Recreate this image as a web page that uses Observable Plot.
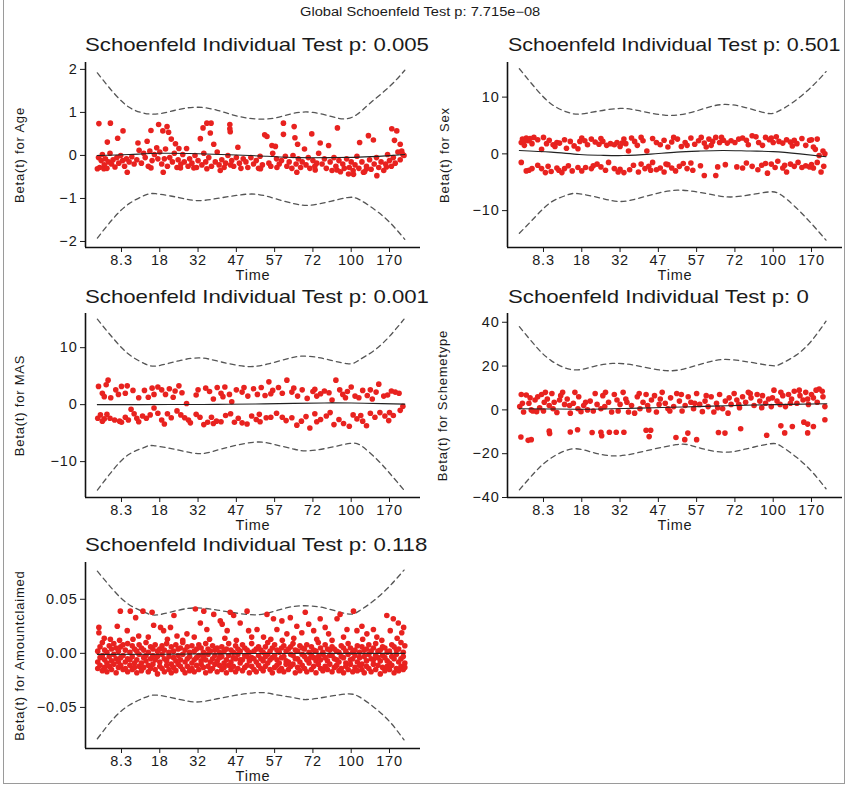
<!DOCTYPE html>
<html>
<head>
<meta charset="utf-8">
<script src="https://cdn.jsdelivr.net/npm/d3@7"></script>
<script src="https://cdn.jsdelivr.net/npm/@observablehq/plot@0.6"></script>
<style>
  html, body { margin: 0; padding: 0; background: #fff; }
  #root { position: relative; width: 850px; height: 787px; overflow: hidden; background: #fff; font-family: "Liberation Sans", Arial, sans-serif; }
  .frame { position: absolute; left: 3px; top: -2px; width: 842px; height: 786px; border: 1px solid #9a9a9a; box-sizing: border-box; }
  .ttl { position: absolute; white-space: nowrap; color: #1a1a1a; transform-origin: left center; }
  .panel { position: absolute; }
  .panel svg text { letter-spacing: 0.8px; }
</style>
</head>
<body>
<div id="root"><div class="frame"></div></div>
<script>
// ---------- shared ----------
const timeTicks = ["8.3", "18", "32", "47", "57", "72", "100", "170"];
const globalTitle = "Global Schoenfeld Test p: 7.715e\u221208";
const panelTitles = [
  "Schoenfeld Individual Test p: 0.005",
  "Schoenfeld Individual Test p: 0.501",
  "Schoenfeld Individual Test p: 0.001",
  "Schoenfeld Individual Test p: 0",
  "Schoenfeld Individual Test p: 0.118"
];
const yLabels = ["Beta(t) for Age", "Beta(t) for Sex", "Beta(t) for MAS", "Beta(t) for Schemetype", "Beta(t) for Amountclaimed"];

// ---------- Age ----------
const agePoints = [
[0.41,0.74],[0.71,0.75],[0.63,0.31],[0.90,0.40],[1.04,0.57],[1.43,0.29],[1.67,0.33],[1.77,0.58],[1.97,0.72],[2.08,0.57],[2.19,0.67],[2.23,0.54],[2.30,0.38],[2.41,0.27],[2.50,0.16],[2.70,0.16],[3.06,0.39],[3.13,0.64],[3.23,0.75],[3.34,0.75],[3.32,0.52],[3.41,0.26],[3.83,0.72],[3.83,0.62],[3.84,0.55],[4.04,0.19],[4.74,0.48],[4.80,0.44],[4.93,0.23],[5.02,0.21],[5.23,0.75],[5.23,0.49],[5.51,0.67],[5.53,0.41],[5.60,0.26],[5.78,0.15],[5.97,0.50],[6.19,0.29],[6.41,0.23],[6.64,0.64],[7.22,0.30],[7.45,0.46],[7.58,0.36],[8.06,0.62],[8.19,0.57],[8.13,0.35],[8.28,0.26],[8.32,0.10],[8.38,0.00],
[0.37,-0.31],[0.54,-0.31],[1.15,-0.39],[1.77,-0.29],[2.09,-0.39],[2.54,-0.29],[2.89,-0.29],[3.23,-0.31],[3.58,-0.35],[3.85,-0.22],[4.63,-0.31],[5.06,-0.28],[5.58,-0.39],[6.06,-0.34],[6.63,-0.34],[6.93,-0.43],[7.06,-0.44],[7.32,-0.39],[7.67,-0.47],[7.40,-0.31],[7.92,-0.27],
[0.40,-0.05],[0.43,-0.28],[0.47,-0.12],[0.50,0.02],[0.55,-0.22],[0.58,-0.08],[0.62,-0.30],[0.66,-0.15],[0.70,0.05],[0.74,-0.20],[0.78,-0.10],[0.83,-0.27],[0.88,-0.05],[0.93,-0.18],[0.98,0.00],[1.03,-0.12],[1.08,-0.25],[1.13,-0.08],[1.20,-0.15],[1.27,-0.03],[1.33,-0.20],[1.40,-0.10],[1.46,0.12],[1.52,-0.18],[1.58,0.05],[1.62,-0.05],[1.70,-0.25],[1.74,0.10],[1.80,-0.12],[1.86,0.02],[1.92,0.18],[1.95,-0.08],[2.00,0.08],[2.05,-0.20],[2.12,-0.08],[2.15,0.15],[2.20,-0.25],[2.26,-0.05],[2.33,-0.15],[2.38,0.05],[2.45,-0.28],[2.48,-0.10],[2.55,-0.20],[2.60,0.02],[2.64,-0.15],[2.74,-0.25],[2.78,-0.08],[2.84,-0.18],[2.92,0.00],[2.96,-0.28],[3.00,-0.12],[3.10,-0.22],[3.15,0.05],[3.20,-0.15],[3.28,-0.05],[3.35,-0.25],[3.45,-0.15],[3.50,0.08],[3.55,-0.22],[3.62,-0.10],[3.68,-0.28],[3.72,-0.18],[3.78,0.00],[3.88,-0.12],[3.93,-0.25],[4.00,-0.05],[4.08,-0.18],[4.12,-0.30],[4.18,-0.08],[4.25,-0.15],[4.30,-0.28],[4.38,-0.05],[4.45,-0.20],[4.52,-0.12],[4.58,-0.30],[4.62,-0.02],[4.68,-0.22],[4.85,-0.18],[4.90,-0.25],[4.95,0.05],[5.05,-0.08],[5.12,-0.20],[5.18,-0.12],[5.28,-0.02],[5.32,-0.25],[5.38,-0.15],[5.45,-0.30],[5.48,0.00],[5.56,-0.20],[5.62,-0.08],[5.68,-0.28],[5.72,-0.15],[5.82,-0.22],[5.88,-0.05],[5.92,-0.30],[6.00,-0.12],[6.05,-0.25],[6.10,-0.18],[6.15,0.05],[6.24,-0.20],[6.30,-0.08],[6.35,-0.30],[6.45,-0.15],[6.50,-0.35],[6.55,-0.05],[6.60,-0.25],[6.68,-0.12],[6.72,-0.38],[6.78,-0.20],[6.82,-0.30],[6.88,-0.08],[6.95,-0.28],[7.00,-0.15],[7.05,-0.35],[7.10,-0.22],[7.15,-0.02],[7.20,-0.30],[7.28,-0.15],[7.35,-0.38],[7.40,-0.25],[7.48,-0.10],[7.52,-0.32],[7.60,-0.20],[7.66,-0.05],[7.72,-0.28],[7.78,-0.15],[7.85,-0.35],[7.90,-0.20],[7.95,0.02],[8.00,-0.12],[8.05,-0.25],[8.10,-0.05],[8.15,-0.18],[8.22,0.08],[8.28,-0.10],[8.35,0.02]
];
const ageFit = [[0.37,0.00],[1.2,0.02],[2.0,0.05],[3.0,0.04],[4.0,0.01],[4.8,-0.02],[5.6,-0.05],[6.5,-0.05],[7.2,-0.04],[7.9,-0.01],[8.4,0.02]];
const ageUpper = [[0.37,1.92],[0.8,1.45],[1.2,1.12],[1.6,0.98],[2.0,0.97],[2.5,1.07],[3.0,1.12],[3.5,1.05],[4.0,0.92],[4.5,0.85],[5.0,0.87],[5.5,0.98],[6.0,1.00],[6.5,0.90],[6.85,0.85],[7.15,0.95],[7.5,1.22],[8.0,1.6],[8.4,1.98]];
const ageLower = [[0.37,-1.92],[0.8,-1.45],[1.2,-1.12],[1.6,-0.93],[1.9,-0.89],[2.5,-0.98],[3.0,-1.05],[3.5,-1.0],[4.0,-0.93],[4.5,-0.9],[5.0,-1.0],[5.5,-1.12],[5.9,-1.16],[6.4,-1.08],[6.9,-0.98],[7.2,-1.02],[7.6,-1.25],[8.0,-1.55],[8.4,-1.95]];
const ageTicks = [-2, -1, 0, 1, 2];

// ---------- Sex ----------
const sexPoints = [
[0.42,2.0],[0.45,2.6],[0.5,1.5],[0.55,2.8],[0.6,2.3],[0.7,1.8],[0.75,2.9],[0.85,2.5],[0.95,0.8],[1.0,2.9],[1.08,1.8],[1.15,2.4],[1.25,1.6],[1.35,2.0],[1.42,1.9],[1.55,2.5],[1.6,1.0],[1.7,2.2],[1.8,1.4],[1.9,0.9],[2.0,2.8],[2.08,2.3],[2.15,1.6],[2.25,2.6],[2.35,2.1],[2.45,1.7],[2.55,2.2],[2.65,1.5],[2.75,1.8],[2.85,1.6],[2.92,2.0],[3.0,1.3],[3.1,2.6],[3.15,1.8],[3.22,0.5],[3.3,2.8],[3.38,2.2],[3.45,1.5],[3.55,2.9],[3.7,0.5],[3.85,2.7],[3.95,2.0],[4.05,1.6],[4.15,2.4],[4.25,1.2],[4.35,2.1],[4.5,2.6],[4.6,1.3],[4.7,2.0],[4.75,1.5],[4.85,2.8],[4.95,1.7],[5.05,2.3],[5.12,2.9],[5.2,1.9],[5.25,1.2],[5.32,2.6],[5.42,2.2],[5.5,2.9],[5.6,2.0],[5.7,2.4],[5.8,1.9],[5.9,2.3],[6.0,2.0],[6.1,2.6],[6.2,2.8],[6.35,1.6],[6.45,3.2],[6.55,3.0],[6.62,2.0],[6.72,1.5],[6.8,2.9],[6.9,2.5],[7.0,2.0],[7.08,3.0],[7.15,2.2],[7.25,1.9],[7.35,2.5],[7.45,2.1],[7.55,2.4],[7.62,1.8],[7.75,2.7],[7.85,1.5],[7.95,2.4],[8.0,2.5],[8.05,1.2],[8.1,0.8],[8.2,-0.3],[8.3,0.5],[8.35,0.0],
[0.5,2.3],[0.65,2.7],[1.3,1.3],[1.95,2.2],[2.5,2.7],[3.05,1.9],[3.6,2.3],[4.4,2.9],[5.38,1.5],[5.65,2.9],[6.3,2.4],[6.95,2.8],[7.5,1.4],[8.15,2.6],
[0.42,-1.5],[0.55,-3.0],[0.7,-2.6],[0.85,-2.0],[0.95,-2.6],[1.05,-3.3],[1.12,-2.2],[1.2,-3.1],[1.35,-2.5],[1.48,-3.3],[1.55,-2.6],[1.65,-2.1],[1.75,-3.0],[1.9,-2.4],[2.0,-3.0],[2.1,-2.4],[2.25,-2.6],[2.4,-1.8],[2.5,-2.3],[2.62,-2.9],[2.7,-1.5],[2.85,-2.6],[2.95,-3.2],[3.1,-3.3],[3.25,-2.8],[3.35,-2.0],[3.48,-3.2],[3.55,-1.8],[3.65,-2.6],[3.75,-2.2],[3.85,-1.5],[3.95,-2.8],[4.05,-2.5],[4.15,-3.2],[4.25,-1.9],[4.35,-2.5],[4.45,-3.0],[4.55,-2.2],[4.65,-1.7],[4.75,-2.6],[4.85,-1.6],[5.1,-2.1],[5.2,-3.8],[5.5,-3.8],[5.55,-2.3],[5.75,-1.9],[6.05,-2.3],[6.3,-1.6],[6.45,-2.2],[6.6,-2.8],[6.7,-2.0],[6.85,-3.4],[6.95,-1.8],[7.05,-2.4],[7.12,-1.3],[7.25,-2.5],[7.35,-3.2],[7.45,-1.8],[7.55,-2.2],[7.65,-1.5],[7.75,-2.4],[7.85,-2.1],[7.95,-2.3],[8.05,-2.5],[8.15,-1.5],[8.25,-3.2],[8.32,-2.2],
[0.62,-2.9],[1.4,-2.9],[2.3,-2.1],[3.0,-2.7],[3.8,-2.9],[4.2,-1.8],[4.9,-2.9],[6.2,-2.5],[6.8,-1.7],[7.3,-2.0],[8.0,-1.9]
];
const sexFit = [[0.37,0.6],[1.2,0.3],[1.94,-0.1],[2.5,-0.25],[3.08,-0.3],[3.8,-0.05],[4.48,0.3],[5.1,0.5],[5.7,0.6],[6.4,0.5],[7.0,0.4],[7.7,0.0],[8.38,-0.5]];
const sexUpper = [[0.37,15],[0.8,11.5],[1.2,8.8],[1.6,7.4],[1.94,7.0],[2.4,7.5],[3.0,8.0],[3.5,7.6],[4.2,6.8],[4.8,7.2],[5.3,8.2],[5.7,8.7],[6.2,8.3],[6.8,7.2],[7.1,7.4],[7.5,9.0],[8.0,11.8],[8.38,14.5]];
const sexLower = [[0.37,-14],[0.8,-11],[1.2,-8.5],[1.6,-7.3],[1.9,-7.0],[2.5,-7.8],[3.0,-8.4],[3.5,-7.8],[4.0,-6.9],[4.5,-6.4],[5.0,-6.7],[5.5,-7.3],[5.9,-7.6],[6.4,-7.2],[6.9,-6.7],[7.2,-7.2],[7.6,-9.5],[8.0,-12.3],[8.38,-15.2]];
const sexTicks = [-10, 0, 10];

// ---------- MAS ----------
const masPoints = [
[0.4,3.2],[0.5,2.0],[0.6,3.5],[0.65,4.3],[0.72,1.2],[0.85,2.6],[0.92,1.8],[1.0,3.2],[1.15,3.3],[1.3,2.5],[1.45,1.2],[1.6,2.5],[1.7,1.3],[1.85,1.8],[1.95,3.1],[2.05,2.6],[2.15,1.8],[2.25,2.8],[2.35,1.3],[2.5,3.3],[2.58,2.1],[2.7,0.2],[2.95,1.7],[3.2,2.9],[3.3,2.3],[3.4,1.0],[3.5,3.0],[3.6,2.0],[3.7,3.1],[3.82,1.8],[3.88,0.5],[4.0,2.6],[4.15,2.2],[4.3,1.5],[4.45,2.8],[4.55,1.8],[4.65,3.0],[4.75,1.6],[4.85,4.0],[4.95,2.5],[5.1,3.0],[5.2,2.0],[5.32,4.3],[5.5,2.9],[5.6,1.5],[5.72,2.6],[5.85,1.1],[6.0,2.3],[6.1,1.5],[6.2,1.9],[6.3,2.4],[6.42,2.1],[6.5,0.8],[6.6,4.3],[6.7,2.6],[6.78,1.8],[6.9,2.3],[7.0,3.1],[7.1,1.5],[7.2,1.2],[7.3,2.5],[7.42,1.6],[7.55,1.0],[7.65,2.2],[7.72,3.6],[7.85,1.5],[7.95,1.7],[8.05,2.4],[8.15,2.2],
[0.55,1.4],[1.1,2.0],[1.8,2.9],[2.4,2.4],[3.0,2.6],[3.65,1.4],[4.2,3.0],[4.9,1.9],[5.45,2.2],[6.05,2.7],[6.85,1.2],[7.5,2.6],[8.25,2.0],
[0.38,-2.4],[0.45,-1.8],[0.55,-2.5],[0.62,-1.7],[0.7,-2.4],[0.82,-2.7],[0.95,-2.9],[1.0,-3.1],[1.1,-2.2],[1.18,-2.7],[1.25,-0.8],[1.33,-1.6],[1.45,-3.0],[1.55,-2.0],[1.65,-2.4],[1.75,-1.8],[1.85,-0.6],[1.95,-1.5],[2.05,-2.7],[2.12,-3.4],[2.3,-2.3],[2.45,-1.1],[2.55,-1.8],[2.65,-2.3],[2.75,-2.7],[2.8,-3.2],[2.95,-1.7],[3.05,-2.2],[3.15,-3.5],[3.25,-3.1],[3.35,-2.2],[3.48,-2.9],[3.6,-3.0],[3.72,-1.9],[3.85,-1.6],[3.95,-3.1],[4.05,-2.4],[4.15,-3.2],[4.28,-3.4],[4.4,-2.0],[4.52,-2.6],[4.62,-3.0],[4.78,-2.3],[4.9,-2.2],[5.05,-1.5],[5.2,-2.2],[5.45,-2.3],[5.58,-3.6],[5.7,-2.9],[5.82,-2.1],[5.92,-4.1],[6.05,-1.6],[6.2,-2.6],[6.35,-2.0],[6.45,-1.4],[6.55,-3.5],[6.68,-2.6],[6.8,-3.3],[6.95,-3.8],[7.05,-1.8],[7.15,-2.5],[7.25,-1.9],[7.4,-3.7],[7.5,-1.5],[7.62,-2.2],[7.75,-1.4],[7.88,-2.0],[7.98,-2.8],[8.1,-1.9],[8.28,-1.0],[8.35,-0.3],
[0.5,-2.9],[1.4,-2.4],[2.2,-1.6],[3.4,-3.3],[4.6,-1.7],[5.3,-2.8],[6.1,-3.0],[7.3,-2.9],[8.0,-1.4]
];
const masFit = [[0.37,0.0],[1.5,0.0],[2.5,0.02],[3.5,0.05],[4.5,0.12],[5.5,0.22],[6.3,0.3],[7.0,0.28],[7.8,0.18],[8.4,0.1]];
const masUpper = [[0.37,15],[0.8,11.5],[1.2,8.8],[1.6,7.2],[1.93,6.8],[2.5,7.7],[3.06,8.2],[3.6,7.5],[4.28,6.7],[4.8,7.1],[5.3,8.0],[5.67,8.5],[6.2,8.2],[6.89,7.2],[7.2,7.8],[7.6,9.5],[8.0,12],[8.38,15]];
const masLower = [[0.37,-15],[0.8,-11.3],[1.2,-8.7],[1.6,-7.5],[1.84,-7.2],[2.5,-8.0],[3.06,-8.6],[3.6,-7.8],[4.45,-6.6],[5.0,-7.0],[5.5,-7.8],[5.84,-8.1],[6.4,-7.6],[6.97,-6.8],[7.3,-7.4],[7.7,-9.8],[8.0,-12],[8.38,-15]];
const masTicks = [-10, 0, 10];

// ---------- Schemetype ----------
const schemePoints = [
[0.38,1.5],[0.42,7.0],[0.48,-1.0],[0.55,6.8],[0.62,3.0],[0.68,0.0],[0.72,-0.5],[0.78,4.5],[0.85,6.0],[0.9,1.0],[0.95,7.0],[1.0,-0.5],[1.05,8.0],[1.1,5.0],[1.15,2.0],[1.22,7.5],[1.28,3.5],[1.35,-1.2],[1.42,4.5],[1.5,8.0],[1.55,2.5],[1.62,5.0],[1.7,-1.5],[1.78,3.0],[1.82,8.0],[1.9,0.5],[1.98,-0.8],[2.05,2.0],[2.15,0.0],[2.22,4.0],[2.3,-0.5],[2.4,2.5],[2.5,0.5],[2.55,6.5],[2.62,8.0],[2.7,3.5],[2.78,-1.0],[2.85,7.0],[2.92,4.5],[3.0,2.5],[3.08,8.0],[3.15,5.0],[3.22,-1.0],[3.3,2.0],[3.38,-1.5],[3.45,6.0],[3.52,0.5],[3.6,3.5],[3.68,7.0],[3.75,0.0],[3.82,4.5],[3.9,6.5],[3.95,-1.0],[4.02,2.5],[4.1,8.0],[4.18,3.0],[4.25,0.5],[4.32,5.5],[4.4,1.5],[4.48,7.5],[4.55,4.0],[4.62,-0.5],[4.7,2.0],[4.78,6.0],[4.85,3.5],[4.92,0.5],[5.0,7.5],[5.08,2.5],[5.15,-0.8],[5.22,4.0],[5.3,1.5],[5.38,6.0],[5.45,-1.0],[5.52,3.0],[5.6,7.0],[5.68,0.5],[5.75,4.0],[5.82,-1.5],[5.9,2.5],[5.98,7.5],[6.05,4.5],[6.12,1.0],[6.2,6.0],[6.28,3.5],[6.35,8.0],[6.42,5.5],[6.5,2.0],[6.58,7.0],[6.65,4.0],[6.72,6.5],[6.8,3.0],[6.88,5.0],[6.95,1.5],[7.02,9.0],[7.1,4.0],[7.18,2.5],[7.25,6.5],[7.32,1.5],[7.4,7.0],[7.48,5.0],[7.55,8.5],[7.62,3.0],[7.7,6.5],[7.78,4.5],[7.85,8.0],[7.92,2.5],[8.0,7.0],[8.05,5.5],[8.12,9.0],[8.2,9.5],[8.28,8.5],[8.35,1.5],
[0.45,3.0],[0.65,5.5],[0.82,-0.8],[1.02,3.5],[1.25,0.5],[1.45,6.5],[1.68,2.0],[1.92,6.0],[2.1,3.5],[2.35,7.5],[2.6,1.5],[2.95,-0.5],[3.18,3.5],[3.5,7.5],[3.72,2.0],[4.05,5.0],[4.3,-0.5],[4.6,7.0],[4.95,3.0],[5.25,6.5],[5.55,1.0],[5.85,5.5],[6.1,2.5],[6.4,7.5],[6.7,1.0],[6.98,5.5],[7.2,8.0],[7.45,3.0],[7.68,9.0],[7.9,5.0],[8.15,3.5],[8.3,6.0],
[0.41,-12.4],[0.60,-13.9],[0.68,-13.6],[1.15,-9.7],[1.16,-10.8],[1.70,-10.1],[1.89,-9.1],[2.27,-10.3],[2.50,-10.2],[2.52,-11.8],[2.72,-10.2],[2.90,-10.2],[3.10,-10.2],[3.68,-9.3],[3.80,-9.3],[3.76,-12.2],[4.46,-12.6],[4.69,-13.6],[4.77,-10.6],[5.00,-13.6],[5.57,-10.3],[5.74,-10.6],[6.15,-8.6],[6.83,-11.6],[7.20,-7.3],[7.30,-10.5],[7.50,-7.6],[7.80,-5.6],[7.90,-6.5],[7.90,-10.5],[8.05,-7.6],[8.35,-4.5]
];
const schemeFit = [[0.37,0.5],[1.2,0.4],[2.0,0.3],[2.8,0.5],[3.5,0.8],[4.3,1.2],[5.0,1.5],[5.8,1.9],[6.5,2.2],[7.4,2.5],[8.4,2.8]];
const schemeUpper = [[0.37,38],[0.8,29],[1.2,22.5],[1.76,18.3],[2.3,19.8],[2.81,21.2],[3.4,20.3],[4.2,17.9],[4.8,19.3],[5.3,21.8],[5.69,23.0],[6.2,22.3],[6.91,20.3],[7.2,21.0],[7.6,25.0],[8.0,31.5],[8.38,40.5]];
const schemeLower = [[0.37,-36.5],[0.8,-28],[1.2,-22],[1.76,-17.8],[2.3,-19.5],[2.81,-21],[3.4,-19.8],[4.46,-15.9],[5.0,-17],[5.69,-19.3],[6.3,-17.8],[6.91,-15.5],[7.2,-16.5],[7.6,-21.5],[8.0,-28],[8.38,-36]];
const schemeTicks = [-40, -20, 0, 20, 40];

// ---------- Amountclaimed ----------
const amountBand = [
[0.38,.002,-.008,-.014],[0.44,-.004,-.011,.006],[0.50,.010,-.002,-.016],[0.56,-.006,-.013,.003],[0.62,.001,-.009,-.017],[0.68,-.003,.007,-.012],[0.74,.004,-.007,-.015],[0.80,-.001,-.010,.009],[0.86,.005,-.005,-.018],[0.92,-.008,.002,-.013],[0.98,.006,-.004,-.011],[1.04,-.002,-.015,.008],[1.10,.003,-.008,-.014],[1.16,-.005,.009,-.017],[1.22,.001,-.011,-.006],[1.28,.007,-.003,-.015],[1.34,-.009,.004,-.013],[1.40,.002,-.006,-.018],[1.46,-.001,.008,-.012],[1.52,.005,-.009,-.016],[1.58,-.004,.003,-.013],[1.64,.010,-.007,-.002],[1.70,-.011,.001,-.017],[1.76,.006,-.005,-.014],[1.82,-.002,-.010,.004],[1.88,.008,-.006,-.015],[1.94,-.003,.002,-.019],[2.00,.004,-.008,-.012],[2.06,-.001,-.014,.007],[2.12,.003,-.005,-.017],[2.18,-.007,.009,-.011],[2.24,.001,-.003,-.015],[2.30,.006,-.010,-.018],[2.36,-.004,.002,-.013],[2.42,.008,-.007,-.016],[2.48,-.002,.004,-.010],[2.54,.005,-.012,-.006],[2.60,-.001,.010,-.015],[2.66,.003,-.008,-.018],[2.72,-.005,.006,-.012],[2.78,.001,-.003,-.016],[2.84,.007,-.009,-.014],[2.90,-.006,.002,-.017],[2.96,.004,-.004,-.011],[3.02,-.002,.008,-.015],[3.08,.005,-.010,-.007],[3.14,-.003,.001,-.013],[3.20,.009,-.006,-.018],[3.26,-.001,.004,-.012],[3.32,.002,-.008,-.016],[3.38,-.005,.007,-.014],[3.44,.003,-.002,-.010],[3.50,-.007,.005,-.017],[3.56,.001,-.011,-.004],[3.62,.006,-.003,-.015],[3.68,-.009,.002,-.013],[3.74,.004,-.006,-.018],[3.80,-.002,.009,-.011],[3.86,.003,-.008,-.015],[3.92,-.004,.001,-.012],[3.98,.007,-.005,-.017],[4.04,-.001,.004,-.014],[4.10,.002,-.009,-.006],[4.16,-.006,.008,-.016],[4.22,.005,-.002,-.013],[4.28,-.003,-.011,.003],[4.34,.001,-.007,-.018],[4.40,.009,-.004,-.012],[4.46,-.005,.002,-.015],[4.52,.004,-.008,-.017],[4.58,-.002,.006,-.011],[4.64,.003,-.005,-.014],[4.70,-.007,.001,-.016],[4.76,.006,-.003,-.012],[4.82,-.001,.010,-.009],[4.88,.002,-.006,-.015],[4.94,-.004,.005,-.018],[5.00,.008,-.002,-.013],[5.06,-.006,.003,-.011],[5.12,.001,-.009,-.016],[5.18,.005,-.004,-.014],[5.24,-.003,.007,-.017],[5.30,.002,-.007,-.010],[5.36,-.008,.004,-.015],[5.42,.006,-.001,-.012],[5.48,-.002,-.010,.009],[5.54,.003,-.005,-.018],[5.60,-.005,.002,-.013],[5.66,.007,-.008,-.016],[5.72,-.001,.005,-.011],[5.78,.004,-.003,-.014],[5.84,-.006,.008,-.017],[5.90,.001,-.009,-.005],[5.96,.006,-.002,-.015],[6.02,-.004,.003,-.012],[6.08,.002,-.007,-.018],[6.14,-.003,.010,-.010],[6.20,.005,-.006,-.014],[6.26,-.001,.001,-.016],[6.32,.008,-.004,-.012],[6.38,-.007,.004,-.015],[6.44,.003,-.010,-.002],[6.50,-.002,.006,-.017],[6.56,.004,-.005,-.013],[6.62,-.006,.002,-.011],[6.68,.001,-.008,-.016],[6.74,.007,-.003,-.014],[6.80,-.004,.005,-.018],[6.86,.002,-.009,-.012],[6.92,-.001,.009,-.015],[6.98,.005,-.006,-.010],[7.04,-.005,.001,-.017],[7.10,.003,-.002,-.013],[7.16,-.008,.007,-.016],[7.22,.001,-.004,-.011],[7.28,.006,-.010,-.015],[7.34,-.003,.003,-.018],[7.40,.004,-.007,-.012],[7.46,-.001,.008,-.014],[7.52,.002,-.005,-.017],[7.58,-.006,.005,-.010],[7.64,.009,-.002,-.015],[7.70,-.004,-.011,.002],[7.76,.003,-.007,-.019],[7.82,-.002,.006,-.013],[7.88,.005,-.004,-.016],[7.94,-.007,.001,-.012],[8.00,.002,-.009,-.015],[8.06,-.003,.008,-.011],[8.12,.006,-.005,-.018],[8.18,-.001,.003,-.014],[8.24,.004,-.008,-.016],[8.30,-.005,.010,-.012],[8.36,.001,-.003,-.015],[8.40,.007,-.009,-.013]
];
const amountSparse = [
[0.41,.024],[0.41,.019],[0.89,.025],[0.97,.039],[1.15,.021],[1.23,.039],[1.37,.033],[1.45,.016],[1.56,.039],[1.80,.038],[1.84,.026],[2.02,.024],[2.10,.021],[2.28,.024],[2.37,.035],[2.45,.016],[2.71,.018],[2.93,.041],[3.06,.028],[3.23,.022],[3.15,.039],[3.41,.036],[3.58,.030],[3.63,.027],[3.76,.021],[3.84,.038],[3.93,.035],[4.10,.028],[4.28,.039],[4.32,.021],[4.54,.022],[4.71,.015],[4.80,.036],[4.97,.032],[5.06,.022],[5.19,.030],[5.32,.018],[5.41,.033],[5.58,.025],[5.71,.019],[5.80,.038],[5.89,.027],[6.02,.021],[6.19,.032],[6.32,.024],[6.41,.018],[6.63,.032],[6.71,.036],[6.89,.022],[7.06,.039],[7.15,.021],[7.28,.025],[7.41,.018],[7.58,.022],[7.67,.015],[7.93,.035],[8.02,.021],[8.10,.032],[8.23,.028],[8.32,.019],[8.37,.024],
[0.55,.014],[0.71,.013],[0.95,.012],[1.3,.013],[1.7,.015],[2.2,.013],[2.6,.012],[2.9,.015],[3.3,.013],[3.7,.014],[4.0,.012],[4.4,.015],[4.9,.013],[5.2,.012],[5.5,.014],[6.1,.013],[6.5,.012],[6.8,.015],[7.3,.013],[7.8,.012],[8.2,.014]
];
const amountFit = [[0.37,-0.001],[2.0,-0.0008],[4.0,-0.0003],[6.0,0.0],[8.4,0.0]];
const amountUpper = [[0.37,.076],[0.8,.058],[1.2,.045],[1.6,.038],[1.93,.0355],[2.5,.040],[2.97,.042],[3.5,.040],[4.28,.036],[4.8,.037],[5.3,.042],[5.76,.044],[6.3,.042],[6.89,.0365],[7.2,.039],[7.6,.049],[8.0,.062],[8.38,.077]];
const amountLower = [[0.37,-.079],[0.8,-.060],[1.2,-.048],[1.6,-.041],[1.93,-.0387],[2.5,-.0425],[2.97,-.045],[3.5,-.042],[4.45,-.0365],[5.0,-.038],[5.5,-.041],[5.84,-.0427],[6.4,-.040],[6.89,-.0375],[7.2,-.040],[7.6,-.050],[8.0,-.063],[8.38,-.080]];
const amountTicks = [-0.05, 0, 0.05];

// ---------- build ----------
const amountPoints = amountBand.flatMap(r => r.slice(1).map(v => [r[0], v])).concat(amountSparse);
const timeTickPos = timeTicks.map((_, i) => i + 1);
const root = document.getElementById("root");

function addText(text, left, top, size, sx) {
  const d = document.createElement("div");
  d.className = "ttl";
  d.textContent = text;
  d.style.left = left + "px";
  d.style.top = top + "px";
  d.style.fontSize = size + "px";
  d.style.lineHeight = size + "px";
  d.style.transform = `scaleX(${sx})`;
  root.appendChild(d);
  return d;
}

function panel(cfg) {
  const xDomain = [0.06, 8.81];
  const chart = Plot.plot({
    width: 425,
    height: cfg.height,
    marginLeft: cfg.marginLeft,
    marginRight: cfg.marginRight,
    marginTop: 7,
    marginBottom: 40,
    style: {fontFamily: "'Liberation Sans', Arial, sans-serif", fontSize: "14.5px", color: "#1a1a1a", background: "transparent", overflow: "visible"},
    x: {domain: xDomain, ticks: timeTickPos, tickFormat: d => timeTicks[Math.round(d) - 1], tickSize: 5, tickPadding: 2,
        label: "Time", labelAnchor: "center", labelOffset: 32, labelArrow: "none"},
    y: {domain: cfg.yDomain, ticks: cfg.yTicks, tickFormat: cfg.yFormat, tickSize: 5, tickPadding: 3,
        label: cfg.ylabel, labelAnchor: "center", labelOffset: cfg.labelOffset, labelArrow: "none"},
    marks: [
      Plot.line(cfg.upper, {x: d => d[0], y: d => d[1], stroke: "#555", strokeWidth: 1.3, strokeDasharray: "5,4", curve: "natural"}),
      Plot.line(cfg.lower, {x: d => d[0], y: d => d[1], stroke: "#555", strokeWidth: 1.3, strokeDasharray: "5,4", curve: "natural"}),
      Plot.dot(cfg.points, {x: d => d[0], y: d => d[1], r: 2.8, fill: "#e8221f", stroke: "none"}),
      Plot.line(cfg.fit, {x: d => d[0], y: d => d[1], stroke: "#222", strokeWidth: 1.1, curve: "natural"}),
      Plot.ruleX([xDomain[0]], {stroke: "#111", strokeWidth: 1.6}),
      Plot.ruleY([cfg.yDomain[0]], {stroke: "#111", strokeWidth: 1.6})
    ]
  });
  chart.querySelectorAll("[aria-label='y-axis label'] text, [aria-label='y-axis label']").forEach(el => el.setAttribute("font-size", "13"));
  const wrap = document.createElement("div");
  wrap.className = "panel";
  wrap.style.left = cfg.left + "px";
  wrap.style.top = cfg.top + "px";
  wrap.appendChild(chart);
  root.appendChild(wrap);
}

const fmt0 = d => d3.format("d")(d);
panel({left: 0, top: 55, height: 232, marginLeft: 85, marginRight: 5, yDomain: [-2.14, 2.16], yTicks: ageTicks, yFormat: fmt0, ylabel: yLabels[0], labelOffset: 71, points: agePoints, fit: ageFit, upper: ageUpper, lower: ageLower});
panel({left: 425, top: 55, height: 232, marginLeft: 82, marginRight: 8, yDomain: [-16.5, 16.1], yTicks: sexTicks, yFormat: fmt0, ylabel: yLabels[1], labelOffset: 68, points: sexPoints, fit: sexFit, upper: sexUpper, lower: sexLower});
panel({left: 0, top: 306, height: 231, marginLeft: 85, marginRight: 5, yDomain: [-16.3, 16], yTicks: masTicks, yFormat: fmt0, ylabel: yLabels[2], labelOffset: 71, points: masPoints, fit: masFit, upper: masUpper, lower: masLower});
panel({left: 425, top: 306, height: 231, marginLeft: 82, marginRight: 8, yDomain: [-40, 44], yTicks: schemeTicks, yFormat: fmt0, ylabel: yLabels[3], labelOffset: 70, points: schemePoints, fit: schemeFit, upper: schemeUpper, lower: schemeLower});
panel({left: 0, top: 555, height: 233, marginLeft: 85, marginRight: 5, yDomain: [-0.088, 0.084], yTicks: amountTicks, yFormat: d3.format(".2f"), ylabel: yLabels[4], labelOffset: 71, points: amountPoints, fit: amountFit, upper: amountUpper, lower: amountLower});

// titles
const g = addText(globalTitle, 0, 6, 12, 1.22);
g.style.left = (420 - g.offsetWidth * 1.22 / 2) + "px";
addText(panelTitles[0], 85, 36, 18.5, 1.2);
addText(panelTitles[1], 508, 36, 18.5, 1.16);
addText(panelTitles[2], 85, 288, 18.5, 1.2);
addText(panelTitles[3], 508, 288, 18.5, 1.2);
addText(panelTitles[4], 85, 536, 18.5, 1.2);
</script>
</body>
</html>
